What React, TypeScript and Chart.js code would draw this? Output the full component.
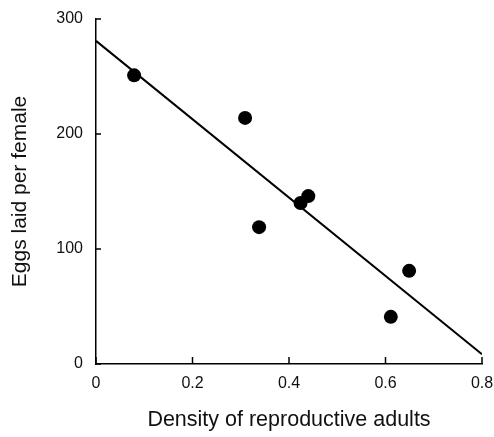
import React, { useEffect, useRef } from "react";
import { Chart, registerables } from "chart.js";

Chart.register(...registerables);

const density = [0.079, 0.309, 0.338, 0.424, 0.44, 0.611, 0.649];
const eggs = [251, 214, 119, 140, 146, 41, 81];
const fitX = [0, 0.8];
const fitY = [281, 8.5];
const xTicks = [0, 0.2, 0.4, 0.6, 0.8];
const yTicks = [0, 100, 200, 300];
const xTitle = "Density of reproductive adults";
const yTitle = "Eggs laid per female";

const FONT = "'Liberation Sans', Arial, Helvetica, sans-serif";

const inwardTicks = {
  id: "inwardTicks",
  afterDraw(chart: any) {
    const ctx = chart.ctx;
    const xs = chart.scales.x;
    const ys = chart.scales.y;
    ctx.save();
    ctx.strokeStyle = "#000";
    ctx.lineWidth = 1.5;
    xTicks.forEach((v) => {
      const px = xs.getPixelForValue(v);
      ctx.beginPath();
      ctx.moveTo(px, ys.bottom);
      ctx.lineTo(px, ys.bottom - 7);
      ctx.stroke();
    });
    yTicks.forEach((v) => {
      const py = ys.getPixelForValue(v);
      ctx.beginPath();
      ctx.moveTo(xs.left - 1, py);
      ctx.lineTo(xs.left + 5, py);
      ctx.stroke();
    });
    ctx.restore();
  },
};

export default function App() {
  const ref = useRef<HTMLCanvasElement | null>(null);

  useEffect(() => {
    if (!ref.current) return;
    const chart = new Chart(ref.current, {
      type: "scatter",
      data: {
        datasets: [
          {
            type: "line",
            data: fitX.map((x, i) => ({ x, y: fitY[i] })),
            borderColor: "#000",
            borderWidth: 2,
            pointRadius: 0,
            fill: false,
          } as any,
          {
            type: "scatter",
            data: density.map((x, i) => ({ x, y: eggs[i] })),
            backgroundColor: "#000",
            borderColor: "#000",
            pointRadius: 7,
            pointBorderWidth: 0,
          },
        ],
      },
      options: {
        responsive: false,
        animation: false,
        devicePixelRatio: 1,
        layout: { padding: { top: 19, right: 12, left: 0, bottom: 0 } },
        plugins: {
          legend: { display: false },
          tooltip: { enabled: false },
        },
        scales: {
          x: {
            type: "linear",
            min: 0,
            max: 0.8,
            afterBuildTicks: (s: any) => {
              s.ticks = xTicks.map((v) => ({ value: v }));
            },
            afterFit: (s: any) => {
              s.height = 73;
              s.paddingLeft = 0;
              s.paddingRight = 0;
            },
            grid: { drawOnChartArea: false, drawTicks: false },
            border: { color: "#000", width: 1.5 },
            ticks: {
              padding: 10,
              color: "#111",
              font: { family: FONT, size: 16 },
              callback: (v: any) => (v === 0 ? "0" : Number(v).toFixed(1)),
            },
            title: {
              display: true,
              text: xTitle,
              color: "#111",
              font: { family: FONT, size: 21.5 },
              padding: { top: 0, bottom: 4 },
            },
          },
          y: {
            type: "linear",
            min: 0,
            max: 300,
            afterBuildTicks: (s: any) => {
              s.ticks = yTicks.map((v) => ({ value: v }));
            },
            afterFit: (s: any) => {
              s.width = 96;
              s.paddingTop = 0;
              s.paddingBottom = 0;
            },
            grid: { drawOnChartArea: false, drawTicks: false },
            border: { color: "#000", width: 1.5 },
            ticks: {
              padding: 13,
              color: "#111",
              font: { family: FONT, size: 16 },
            },
            title: {
              display: true,
              text: yTitle,
              color: "#111",
              font: { family: FONT, size: 21 },
              padding: { top: 8, bottom: 0 },
            },
          },
        },
      },
      plugins: [inwardTicks],
    });
    return () => chart.destroy();
  }, []);

  return (
    <div style={{ position: "fixed", left: 0, top: 0, width: 494, height: 437, background: "#fff" }}>
      <canvas ref={ref} width={494} height={437} style={{ width: 494, height: 437, display: "block" }} />
    </div>
  );
}
